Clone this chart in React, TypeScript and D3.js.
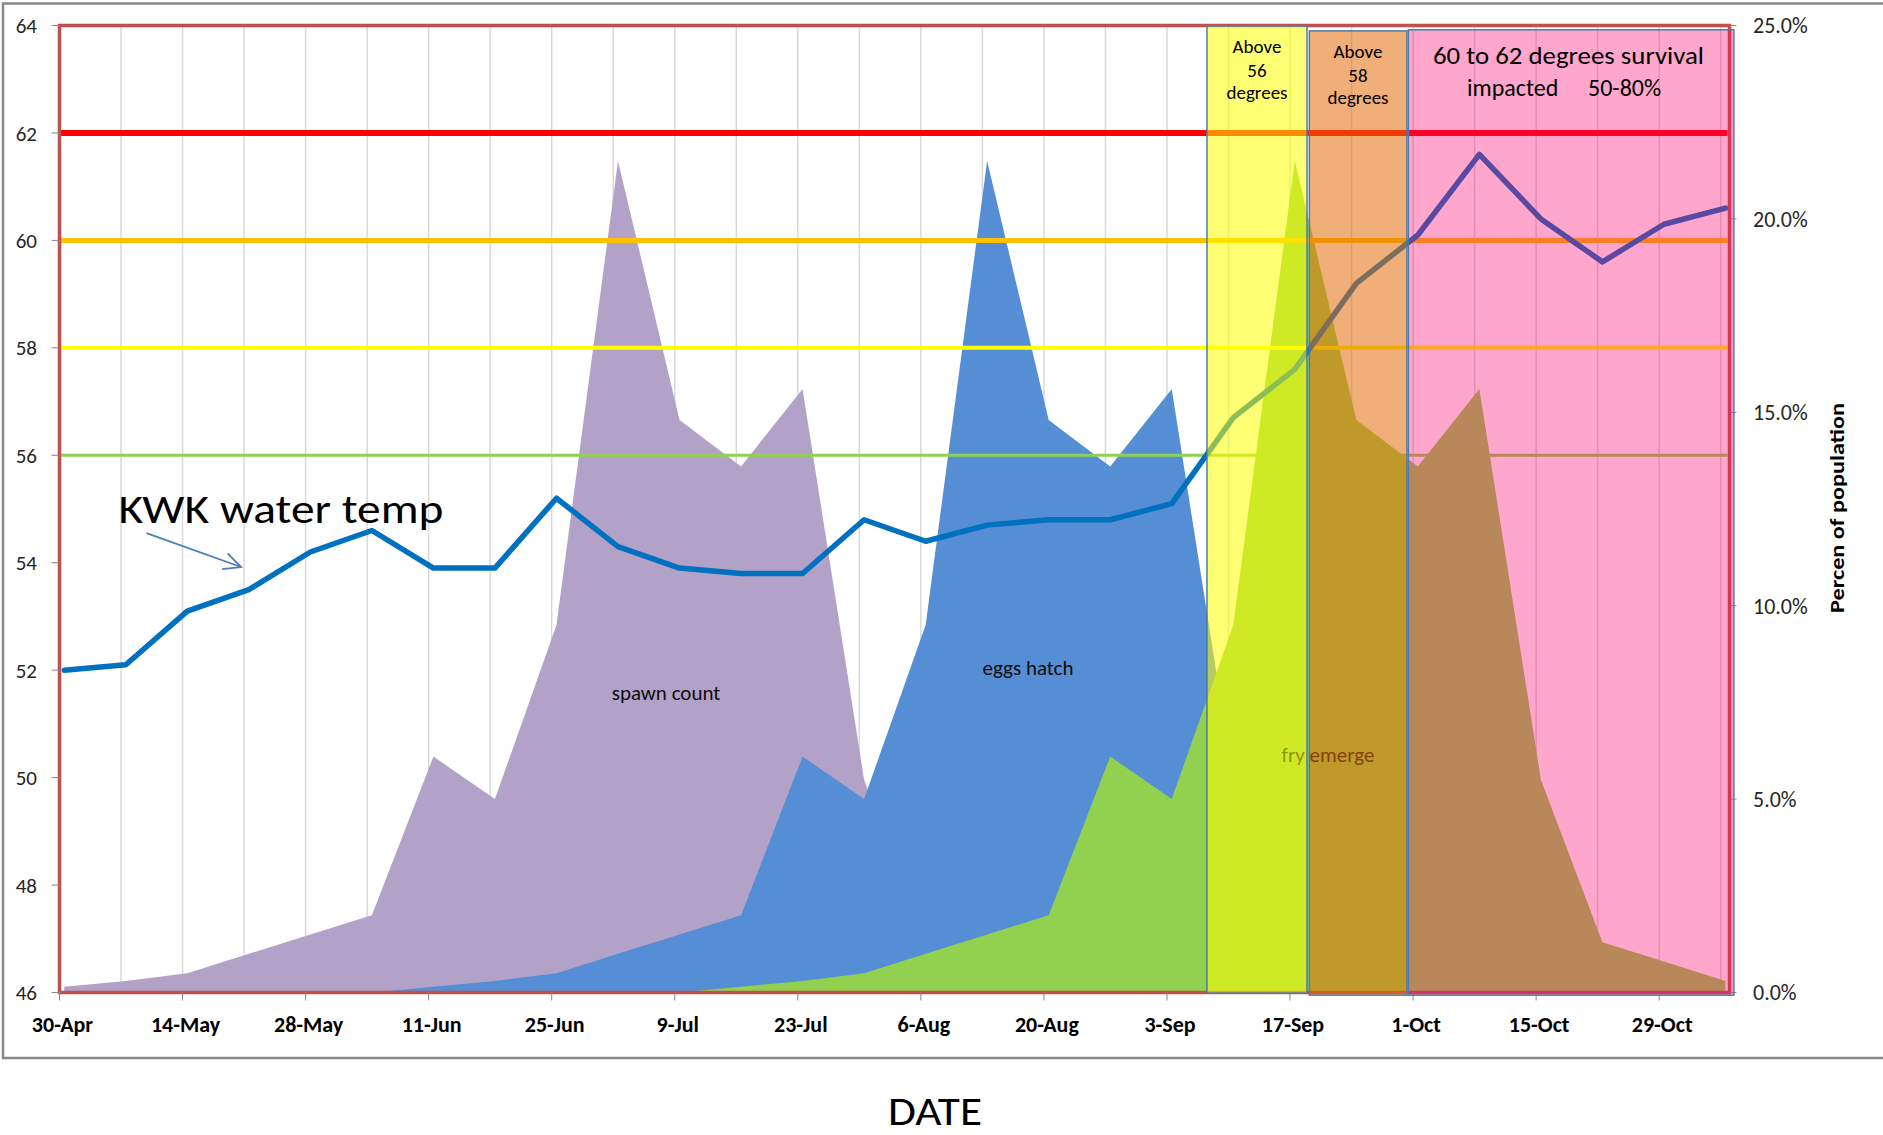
import React from "react";
import * as d3 from "d3";

// ---------- data ----------
const dateStrings = [
  "2013-04-30 13:00", "2013-05-07 13:00", "2013-05-14 13:00", "2013-05-21 13:00", "2013-05-28 13:00",
  "2013-06-04 13:00", "2013-06-11 13:00", "2013-06-18 13:00", "2013-06-25 13:00", "2013-07-02 13:00",
  "2013-07-09 13:00", "2013-07-16 13:00", "2013-07-23 13:00", "2013-07-30 13:00", "2013-08-06 13:00",
  "2013-08-13 13:00", "2013-08-20 13:00", "2013-08-27 13:00", "2013-09-03 13:00", "2013-09-10 13:00",
  "2013-09-17 13:00", "2013-09-24 13:00", "2013-10-01 13:00", "2013-10-08 13:00", "2013-10-15 13:00",
  "2013-10-22 13:00", "2013-10-29 13:00", "2013-11-05 13:00",
];
const waterTemp = [
  52.0, 52.1, 53.1, 53.5, 54.2, 54.6, 53.9, 53.9, 55.2, 54.3, 53.9, 53.8, 53.8, 54.8,
  54.4, 54.7, 54.8, 54.8, 55.1, 56.7, 57.6, 59.2, 60.1, 61.6, 60.4, 59.6, 60.3, 60.6,
];
const spawnCount = [
  0.15, 0.3, 0.5, 1.0, 1.5, 2.0, 6.1, 5.0, 9.5, 21.5, 14.8, 13.6, 15.6, 5.5,
  1.3, 0.8, 0.3, 0, 0, 0, 0, 0, 0, 0, 0, 0, 0, 0,
];
const eggsHatch = [
  0, 0, 0, 0, 0, 0, 0.15, 0.3, 0.5, 1.0, 1.5, 2.0, 6.1, 5.0,
  9.5, 21.5, 14.8, 13.6, 15.6, 5.5, 1.3, 0.8, 0.3, 0, 0, 0, 0, 0,
];
const fryEmerge = [
  0, 0, 0, 0, 0, 0, 0, 0, 0, 0, 0, 0.15, 0.3, 0.5,
  1.0, 1.5, 2.0, 6.1, 5.0, 9.5, 21.5, 14.8, 13.6, 15.6, 5.5, 1.3, 0.8, 0.3,
];
const tickDateStrings = [
  "2013-04-30", "2013-05-14", "2013-05-28", "2013-06-11", "2013-06-25", "2013-07-09", "2013-07-23",
  "2013-08-06", "2013-08-20", "2013-09-03", "2013-09-17", "2013-10-01", "2013-10-15", "2013-10-29",
];
const tempTicks = [46, 48, 50, 52, 54, 56, 58, 60, 62, 64];
const pctTicks = [0, 5, 10, 15, 20, 25];
const thresholds = [62, 60, 58, 56];
const axisDomainStart = "2013-04-30";
const axisDomainEnd = "2013-11-06";

// ---------- styles / layout ----------
const W = 1883;
const H = 1135;
const PL = 59.5, PR = 1729.5, PT = 25.5, PB = 992.5;
const FONT = "Carlito, Calibri, Lato, 'Open Sans', sans-serif";
const thresholdStyle: Record<number, { color: string; width: number }> = {
  62: { color: "#FF0000", width: 6 },
  60: { color: "#FFC000", width: 5 },
  58: { color: "#FFFF00", width: 4 },
  56: { color: "#92D050", width: 3 },
};

const parseDT = d3.utcParse("%Y-%m-%d %H:%M");
const parse = d3.utcParse("%Y-%m-%d");
const fmt = d3.utcFormat("%-d-%b");

export default function App() {
  const dates = dateStrings.map((s) => parseDT(s) as Date);
  const gridDates = dates.map((d) => d3.utcDay.floor(d));
  const start = parse(axisDomainStart) as Date;
  const end = parse(axisDomainEnd) as Date;
  const x = d3.scaleUtc().domain([start, end]).range([PL, PR]);
  const yT = d3.scaleLinear().domain([46, 64]).range([PB, PT]);
  const yP = d3.scaleLinear().domain([0, 25]).range([PB, PT]);
  const xDay = (days: number) => x(new Date(start.getTime() + days * 864e5));

  const area = (vals: number[]) =>
    d3
      .area<number>()
      .x((_, i) => x(dates[i]))
      .y0(yP(0))
      .y1((v) => yP(v))(vals) as string;

  const tempLine = d3
    .line<number>()
    .x((_, i) => x(dates[i]))
    .y((v) => yT(v))(waterTemp) as string;

  const tickDates = tickDateStrings.map((s) => parse(s) as Date);

  // annotation boxes (in data units: day offsets & temperatures)
  const boxes = [
    { d0: 130.55, d1: 141.93, t0: 63.99, t1: 45.99, fill: "#FFFF00", op: 0.55 },
    { d0: 142.2, d1: 153.3, t0: 63.9, t1: 45.95, fill: "#E46C0A", op: 0.55 },
    { d0: 153.46, d1: 190.5, t0: 63.92, t1: 45.95, fill: "#FF006E", op: 0.35 },
  ];

  // arrow
  const ax0 = xDay(9.9), ay0 = yT(54.55);
  const ax1 = xDay(20.65), ay1 = yT(53.92);
  const ang = Math.atan2(ay1 - ay0, ax1 - ax0);
  const headLen = 19;
  const spread = 0.45;
  const h1x = ax1 - headLen * Math.cos(ang - spread);
  const h1y = ay1 - headLen * Math.sin(ang - spread);
  const h2x = ax1 - headLen * Math.cos(ang + spread);
  const h2y = ay1 - headLen * Math.sin(ang + spread);

  return (
    <svg
      width={W}
      height={H}
      viewBox={`0 0 ${W} ${H}`}
      style={{ position: "absolute", left: 0, top: 0, display: "block", background: "#fff" }}
      fontFamily={FONT}
    >
      <rect x={0} y={0} width={W} height={H} fill="#fff" />
      {/* chart area border */}
      <rect x={3} y={3.5} width={W + 20} height={1054.5} fill="#fff" stroke="#898989" strokeWidth={2.5} />

      <defs>
        <clipPath id="plotClip">
          <rect x={PL} y={PT} width={PR - PL} height={PB - PT} />
        </clipPath>
      </defs>

      {/* vertical gridlines */}
      {gridDates.map((d, i) => (
        <line key={"g" + i} x1={x(d)} x2={x(d)} y1={PT} y2={PB} stroke="#D9D9D9" strokeWidth={1.5} />
      ))}

      <g clipPath="url(#plotClip)">
        {/* areas */}
        <path d={area(spawnCount)} fill="#B3A2C7" />
        <path d={area(eggsHatch)} fill="#558ED5" />
        <path d={area(fryEmerge)} fill="#92D050" />

        {/* threshold lines */}
        {thresholds.map((t) => (
          <line
            key={"t" + t}
            x1={PL}
            x2={x(dates[dates.length - 1]) + 2}
            y1={yT(t)}
            y2={yT(t)}
            stroke={thresholdStyle[t].color}
            strokeWidth={thresholdStyle[t].width}
          />
        ))}

        {/* temperature line */}
        <path d={tempLine} fill="none" stroke="#0070C0" strokeWidth={5.5} strokeLinejoin="round" strokeLinecap="round" />
      </g>

      {/* series labels */}
      <text x={666} y={700} fontSize={21} textAnchor="middle" fill="#0D0D0D">spawn count</text>
      <text x={1028} y={675} fontSize={21} textAnchor="middle" fill="#0D0D0D">eggs hatch</text>
      <text x={1328} y={761.5} fontSize={21} textAnchor="middle" fill="#0D0D0D">fry emerge</text>

      {/* KWK annotation */}
      <text x={118.5} y={522.7} fontSize={41} fill="#000" textLength={325} lengthAdjust="spacingAndGlyphs">
        KWK water temp
      </text>
      <line x1={ax0} y1={ay0} x2={ax1} y2={ay1} stroke="#4A7EBB" strokeWidth={1.8} />
      <polyline
        points={`${h1x},${h1y} ${ax1},${ay1} ${h2x},${h2y}`}
        fill="none"
        stroke="#4A7EBB"
        strokeWidth={1.8}
      />

      {/* plot area border */}
      <rect x={PL} y={PT} width={PR - PL} height={PB - PT} fill="none" stroke="#C0504D" strokeWidth={3.5} />

      {/* left axis */}
      {tempTicks.map((t) => (
        <g key={"lt" + t}>
          <line x1={51.5} x2={PL} y1={yT(t)} y2={yT(t)} stroke="#868686" strokeWidth={1} />
          <text x={37} y={yT(t)} dy="0.36em" fontSize={21} textAnchor="end" fill="#262626">
            {t}
          </text>
        </g>
      ))}

      {/* right axis */}
      {pctTicks.map((p) => (
        <g key={"rt" + p}>
          <line x1={PR} x2={PR + 7} y1={yP(p)} y2={yP(p)} stroke="#868686" strokeWidth={1} />
          <text x={1753} y={yP(p)} dy="0.36em" fontSize={22} textAnchor="start" fill="#262626">
            {d3.format(".1%")(p / 100)}
          </text>
        </g>
      ))}

      {/* bottom axis ticks and labels */}
      {tickDates.map((d, i) => (
        <g key={"bt" + i}>
          <line x1={x(d)} x2={x(d)} y1={PB} y2={PB + 8} stroke="#868686" strokeWidth={1} />
          <text x={x(d) + 3} y={1032} fontSize={22} fontWeight="bold" textAnchor="middle" fill="#000">
            {fmt(d)}
          </text>
        </g>
      ))}

      {/* shaded boxes */}
      {boxes.map((b, i) => (
        <rect
          key={"box" + i}
          x={xDay(b.d0)}
          y={yT(b.t0)}
          width={xDay(b.d1) - xDay(b.d0)}
          height={yT(b.t1) - yT(b.t0)}
          fill={b.fill}
          fillOpacity={b.op}
          stroke="#4F7AA8"
          strokeWidth={1.5}
        />
      ))}

      {/* box texts */}
      <g fontSize={19} textAnchor="middle" fill="#000">
        <text x={1257} y={53}>Above</text>
        <text x={1257} y={76.5}>56</text>
        <text x={1257} y={98.5}>degrees</text>
        <text x={1358} y={58}>Above</text>
        <text x={1358} y={81.5}>58</text>
        <text x={1358} y={103.5}>degrees</text>
      </g>
      <text x={1433} y={63.5} fontSize={24} fill="#000" textLength={271} lengthAdjust="spacingAndGlyphs">
        60 to 62 degrees survival
      </text>
      <text y={96} fontSize={24} fill="#000">
        <tspan x={1467}>impacted</tspan>
        <tspan x={1588}>50-80%</tspan>
      </text>

      {/* axis titles */}
      <text
        transform="translate(1844,508) rotate(-90)"
        fontSize={20}
        fontWeight="bold"
        textAnchor="middle"
        fill="#000"
        textLength={210}
        lengthAdjust="spacingAndGlyphs"
      >
        Percen of population
      </text>
      <text x={935} y={1125} fontSize={42} textAnchor="middle" fill="#000" textLength={94} lengthAdjust="spacingAndGlyphs">
        DATE
      </text>
    </svg>
  );
}
